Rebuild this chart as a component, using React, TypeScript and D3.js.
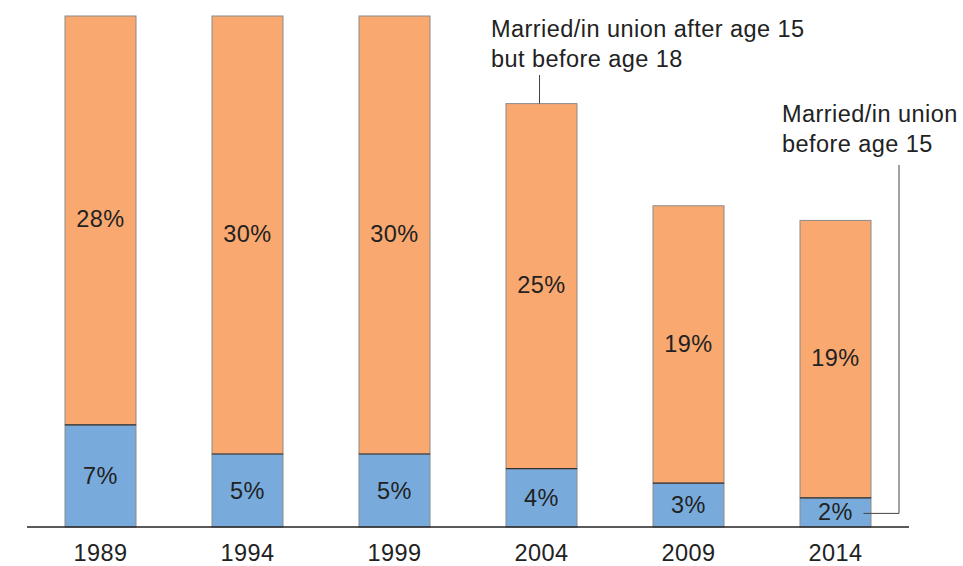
import { useEffect } from 'react';
import * as d3 from 'd3';

const years = ['1989', '1994', '1999', '2004', '2009', '2014'];
const before15 = [7, 5, 5, 4, 3, 2];
const between15and18 = [28, 30, 30, 25, 19, 19];

const width = 963;
const height = 566;
const font = '"Liberation Sans", Arial, Helvetica, sans-serif';
const blue = '#78ABDC';
const orange = '#F9A870';
const fs = 23.5;

const App = () => {
    useEffect(() => {
        document.body.style.margin = '0';
    }, []);

    const x = d3.scaleBand<string>().domain(years).range([27, 909]).paddingInner(0.517).paddingOuter(0.2585);
    const y = d3.scaleLinear().domain([0, 35]).range([527, 16]);
    const bw = x.bandwidth();

    const stacked = years.map((yr, i) => ({
        year: yr,
        low: before15[i],
        high: between15and18[i],
    }));

    const last = stacked[stacked.length - 1];
    const lastCx = (x(last.year) || 0) + bw / 2;
    const lastLowY = (y(0) + y(last.low)) / 2;
    const ann2004 = stacked[3];
    const cx2004 = (x(ann2004.year) || 0) + bw / 2 - 2;

    return (
        <svg width={width} height={height} style={{ display: 'block', fontFamily: font, letterSpacing: '0.45px' }}>
            {stacked.map(d => {
                const bx = x(d.year) || 0;
                const yLow = y(d.low);
                const yTop = y(d.low + d.high);
                return (
                    <g key={d.year}>
                        <rect x={bx} y={yLow} width={bw} height={y(0) - yLow} fill={blue} stroke="#8a8a8a" strokeWidth={1} />
                        <rect x={bx} y={yTop} width={bw} height={yLow - yTop} fill={orange} stroke="#8a8a8a" strokeWidth={1} />
                        <line x1={bx} x2={bx + bw} y1={yLow} y2={yLow} stroke="#333" strokeWidth={1.2} />
                        <text x={bx + bw / 2} y={(y(0) + yLow) / 2 + 8} textAnchor="middle" fontSize={fs} fill="#222">{d.low}%</text>
                        <text x={bx + bw / 2} y={(yLow + yTop) / 2 + 7} textAnchor="middle" fontSize={fs} fill="#222">{d.high}%</text>
                        <text x={bx + bw / 2} y={561} textAnchor="middle" fontSize={fs} fill="#222">{d.year}</text>
                    </g>
                );
            })}
            <line x1={27} x2={909} y1={y(0)} y2={y(0)} stroke="#222" strokeWidth={1.3} />
            <line x1={cx2004} x2={cx2004} y1={75} y2={y(ann2004.low + ann2004.high)} stroke="#444" strokeWidth={1} />
            <text fontSize={fs} fill="#222">
                <tspan x={491} y={37}>Married/in union after age 15</tspan>
                <tspan x={491} y={67}>but before age 18</tspan>
            </text>
            <polyline
                points={`${lastCx + 28},${lastLowY + 1} 899,${lastLowY + 1} 899,165`}
                fill="none"
                stroke="#444"
                strokeWidth={1}
            />
            <text fontSize={fs} fill="#222">
                <tspan x={782} y={122}>Married/in union</tspan>
                <tspan x={782} y={152}>before age 15</tspan>
            </text>
        </svg>
    );
};

export default App;
